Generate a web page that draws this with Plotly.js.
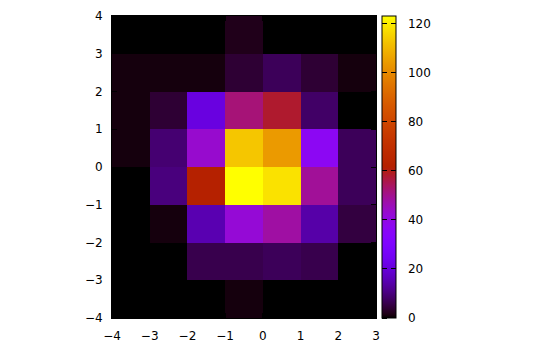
<!DOCTYPE html>
<html>
<head>
<meta charset="utf-8">
<script src="https://cdn.plot.ly/plotly-3.0.1.min.js"></script>
<style>html,body{margin:0;padding:0;background:#fff}#chart{width:550px;height:350px}</style>
</head>
<body>
<div id="chart"></div>
<script>
// Bin edges
var xEdges = [-4, -3, -2, -1, 0, 1, 2, 3];
var yEdges = [-4, -3, -2, -1, 0, 1, 2, 3, 4];
// Counts, rows from bottom (y=-4..-3) to top (y=3..4), columns x=-4..-3 to 2..3
var rowYm4 = [0, 0, 0, 1, 0, 0, 0];
var rowYm3 = [0, 0, 6, 6, 7, 6, 0];
var rowYm2 = [0, 1, 15, 42, 48, 14, 5];
var rowYm1 = [0, 10, 62, 123, 118, 49, 7];
var rowY0  = [1, 9, 43, 113, 104, 37, 7];
var rowY1  = [1, 4, 21, 52, 58, 8, 0];
var rowY2  = [1, 1, 1, 4, 7, 4, 1];
var rowY3  = [0, 0, 0, 2, 0, 0, 0];
var xTicks = [-4, -3, -2, -1, 0, 1, 2, 3];
var yTicks = [-4, -3, -2, -1, 0, 1, 2, 3, 4];
var cbTicks = [0, 20, 40, 60, 80, 100, 120];

var z = [rowYm4, rowYm3, rowYm2, rowYm1, rowY0, rowY1, rowY2, rowY3];

// gnuplot default palette: rgbformulae 7,5,15
function pal(t) {
  var r = Math.sqrt(t), g = Math.pow(t, 3), b = Math.sin(2 * Math.PI * t);
  b = Math.max(0, Math.min(1, b));
  return 'rgb(' + Math.round(r * 255) + ',' + Math.round(g * 255) + ',' + Math.round(b * 255) + ')';
}
var cs = [];
for (var i = 0; i <= 100; i++) { var t = i / 100; cs.push([t, pal(t)]); }
var clear = [[0, 'rgba(0,0,0,0)'], [1, 'rgba(0,0,0,0)']];

var zmax = Math.max.apply(null, z.map(function (r) { return Math.max.apply(null, r); }));

var font = {family: 'DejaVu Sans', size: 12, color: '#000'};

var plotW = 264;
var cbLeft = 1 + (382 - 376) / plotW;

function cbBase(extra) {
  var o = {
    xanchor: 'left', xpad: 0,
    y: 0.5, yanchor: 'middle', ypad: 0,
    len: 1, lenmode: 'fraction',
    tickvals: cbTicks, tickfont: font
  };
  for (var k in extra) o[k] = extra[k];
  return o;
}

Plotly.newPlot('chart', [{
  type: 'heatmap',
  x: xEdges, y: yEdges, z: z,
  colorscale: cs, zmin: 0, zmax: zmax,
  zsmooth: false,
  hoverinfo: 'skip',
  colorbar: cbBase({
    x: cbLeft, thickness: 14,
    outlinewidth: 1, outlinecolor: '#000',
    ticks: 'inside', ticklen: 5, tickcolor: '#000', tickwidth: 1,
    showticklabels: false
  })
}, {
  // left-edge ticks of the colour box (gnuplot mirrors cb tics)
  type: 'scatter', mode: 'markers', x: [null], y: [null], hoverinfo: 'skip', showlegend: false,
  marker: {color: [0], cmin: 0, cmax: zmax, colorscale: clear, showscale: true,
    colorbar: cbBase({
      x: cbLeft - 2 / plotW, thickness: 2, outlinewidth: 0,
      ticks: 'outside', ticklen: 5, tickcolor: '#000', tickwidth: 1,
      showticklabels: false
    })}
}, {
  // tick labels of the colour box
  type: 'scatter', mode: 'markers', x: [null], y: [null], hoverinfo: 'skip', showlegend: false,
  marker: {color: [0], cmin: 0, cmax: zmax, colorscale: clear, showscale: true,
    colorbar: cbBase({
      x: cbLeft, thickness: 14, outlinewidth: 0,
      ticks: 'outside', ticklen: 10, tickcolor: 'rgba(0,0,0,0)',
      showticklabels: true
    })}
}], {
  width: 550, height: 350,
  margin: {l: 112, r: 174, t: 16, b: 32, pad: 0},
  paper_bgcolor: '#fff', plot_bgcolor: '#fff',
  font: font,
  showlegend: false,
  xaxis: {
    range: [-4, 3], tickvals: xTicks, ticks: 'inside', ticklen: 5, tickcolor: '#000',
    showline: true, linecolor: '#000', linewidth: 1, mirror: 'ticks',
    showgrid: false, zeroline: false, tickfont: font, ticklabelstandoff: 7
  },
  yaxis: {
    range: [-4, 4], tickvals: yTicks, ticks: 'inside', ticklen: 5, tickcolor: '#000',
    showline: true, linecolor: '#000', linewidth: 1, mirror: 'ticks',
    showgrid: false, zeroline: false, tickfont: font, ticklabelstandoff: 6
  }
}, {displayModeBar: false, staticPlot: true});
</script>
</body>
</html>
